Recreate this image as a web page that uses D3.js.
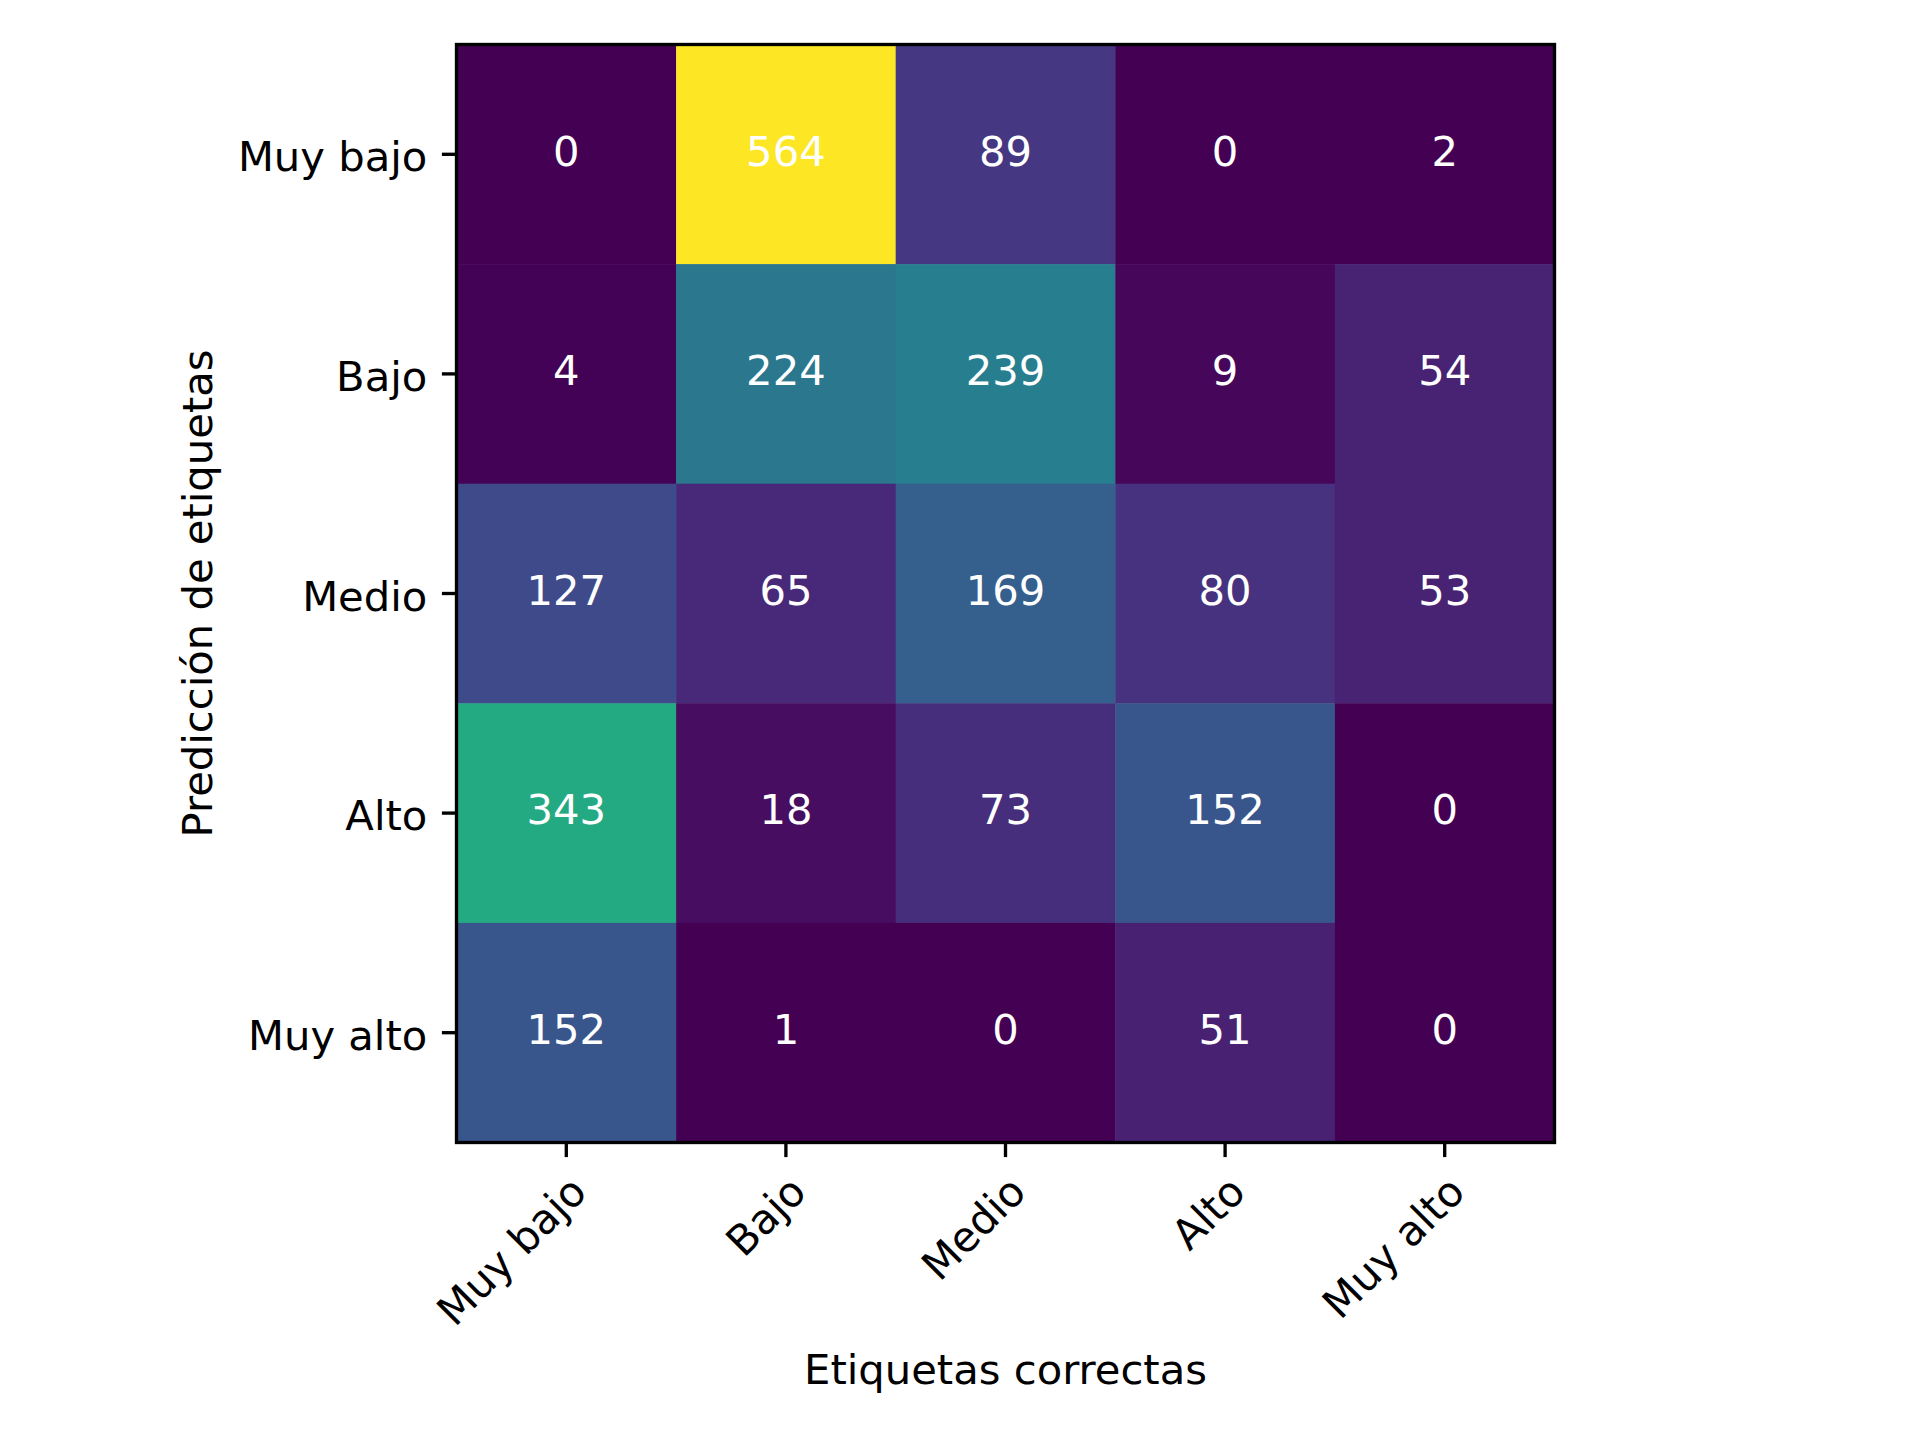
<!DOCTYPE html>
<html>
<head>
<meta charset="utf-8">
<script src="https://cdn.jsdelivr.net/npm/d3@7"></script>
<style>
  html, body { margin: 0; padding: 0; background: #fff; }
  svg { display: block; font-family: "DejaVu Sans", sans-serif; }
</style>
</head>
<body>
<div id="chart"></div>
<script>
// labels for both axes (same order on rows and columns)
const categories = ["Muy bajo", "Bajo", "Medio", "Alto", "Muy alto"];
// confusion matrix rows = predicted label, columns = correct label
const rowMuyBajo = [0, 564, 89, 0, 2];
const rowBajo = [4, 224, 239, 9, 54];
const rowMedio = [127, 65, 169, 80, 53];
const rowAlto = [343, 18, 73, 152, 0];
const rowMuyAlto = [152, 1, 0, 51, 0];
const matrix = [rowMuyBajo, rowBajo, rowMedio, rowAlto, rowMuyAlto];

const xTitle = "Etiquetas correctas";
const yTitle = "Predicción de etiquetas";

// figure size and axes box (square, like imshow)
const W = 1920, H = 1440;
const margin = { left: 456.5, top: 44.5 };
const size = 1098;
const fontPx = 41.7;
const tickLen = 14.6, tickPad = 14.6, lw = 3.33;

const svg = d3.select("#chart")
  .append("svg")
  .attr("width", W)
  .attr("height", H);

const g = svg.append("g")
  .attr("transform", `translate(${margin.left}, ${margin.top})`);

const x = d3.scaleBand().domain(categories).range([0, size]);
const y = d3.scaleBand().domain(categories).range([0, size]);

const vmax = d3.max(matrix.flat());
const color = d3.scaleSequential(d3.interpolateViridis).domain([0, vmax]);

// flatten into cells
const cells = [];
matrix.forEach(function (row, i) {
  row.forEach(function (v, j) {
    cells.push({ row: categories[i], col: categories[j], value: v });
  });
});

g.selectAll("rect.cell")
  .data(cells)
  .join("rect")
  .attr("class", "cell")
  .attr("x", d => x(d.col))
  .attr("y", d => y(d.row))
  .attr("width", x.bandwidth() + 0.5)
  .attr("height", y.bandwidth() + 0.5)
  .attr("fill", d => color(d.value));

// numbers in the cells
g.selectAll("text.val")
  .data(cells)
  .join("text")
  .attr("class", "val")
  .attr("x", d => x(d.col) + x.bandwidth() / 2)
  .attr("y", d => y(d.row) + y.bandwidth() / 2)
  .attr("dy", "0.27em")
  .attr("text-anchor", "middle")
  .style("font-size", fontPx + "px")
  .style("fill", "#fff")
  .text(d => d.value);

// axes
const xAxis = g.append("g")
  .attr("transform", `translate(0, ${size})`)
  .call(d3.axisBottom(x).tickSize(tickLen).tickPadding(tickPad).tickSizeOuter(0));
const yAxis = g.append("g")
  .call(d3.axisLeft(y).tickSize(tickLen).tickPadding(tickPad).tickSizeOuter(0));

[xAxis, yAxis].forEach(function (a) {
  a.select(".domain").remove();
  a.selectAll(".tick line").attr("stroke", "#000").attr("stroke-width", lw);
  a.selectAll(".tick text")
    .style("font-size", fontPx + "px")
    .style("font-family", "DejaVu Sans, sans-serif")
    .attr("fill", "#000");
});

yAxis.selectAll(".tick text").attr("dy", "0.41em");

// rotated x labels, anchored at their top-right corner
xAxis.selectAll(".tick text")
  .attr("y", 0)
  .attr("dy", "0.76em")
  .attr("text-anchor", "end")
  .attr("transform", `translate(0, ${tickLen + tickPad}) rotate(-45)`);

// spines
g.append("rect")
  .attr("x", 0)
  .attr("y", 0)
  .attr("width", size)
  .attr("height", size)
  .attr("fill", "none")
  .attr("stroke", "#000")
  .attr("stroke-width", lw);

// axis titles
svg.append("text")
  .attr("x", margin.left + size / 2)
  .attr("y", 1384)
  .attr("text-anchor", "middle")
  .style("font-size", fontPx + "px")
  .text(xTitle);

svg.append("text")
  .attr("transform", `translate(212, ${margin.top + size / 2}) rotate(-90)`)
  .attr("text-anchor", "middle")
  .style("font-size", fontPx + "px")
  .text(yTitle);
</script>
</body>
</html>
